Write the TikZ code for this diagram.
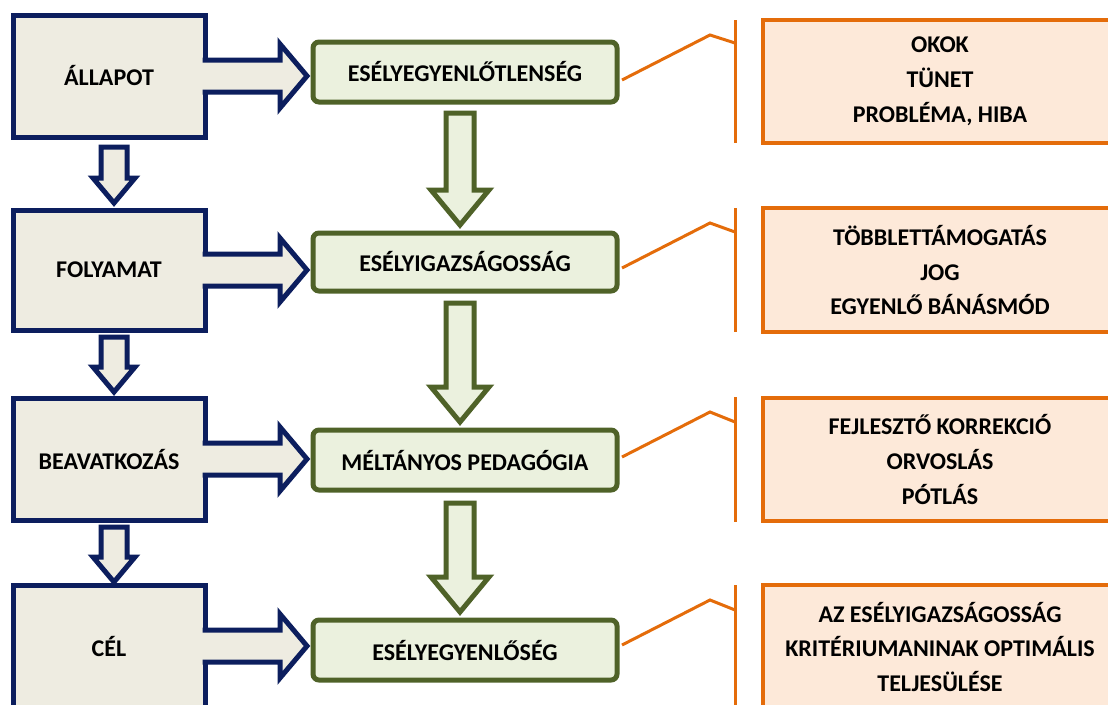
\documentclass[tikz,border=0pt]{standalone}
\usepackage{fontspec}
\setmainfont{Carlito}
\usetikzlibrary{calc}
\definecolor{navy}{RGB}{12,30,94}
\definecolor{tanfill}{RGB}{238,236,225}
\definecolor{olive}{RGB}{79,98,40}
\definecolor{greenfill}{RGB}{235,241,222}
\definecolor{orng}{RGB}{228,108,10}
\definecolor{orngfill}{RGB}{253,233,217}
\newcommand\vblock[6]{%
  \draw[#6] let \p1=(#1), \p2=(#2) in
    (\x1-#3pt,\y1) -- (\x1+#3pt,\y1) -- (\x1+#3pt,\y2+#5pt) -- (\x1+#4pt,\y2+#5pt)
    -- (\x1,\y2) -- (\x1-#4pt,\y2+#5pt) -- (\x1-#3pt,\y2+#5pt) -- cycle;}
\newcommand\hblock[2]{%
  \filldraw[bluearr] let \p1=(#1), \p2=(#2) in
    (\x1-2.5pt,\y1+16pt) -- (\x2-27pt,\y1+16pt) -- (\x2-27pt,\y1+32pt) -- (\x2,\y1)
    -- (\x2-27pt,\y1-32pt) -- (\x2-27pt,\y1-16pt) -- (\x1-2.5pt,\y1-16pt);}
\begin{document}
\begin{tikzpicture}[x=1pt,y=-1pt,
  font=\fontsize{24}{35}\selectfont\bfseries,
  stbox/.style={draw=navy, fill=tanfill, line width=5pt, minimum width=192pt, inner sep=0pt, outer sep=0pt, text=black},
  gbox/.style={draw=olive, fill=greenfill, line width=5pt, rounded corners=6pt, minimum width=304pt, inner sep=0pt, outer sep=0pt, text=black},
  obox/.style={draw=orng, fill=orngfill, line width=4pt, minimum width=354pt, inner sep=0pt, outer sep=0pt, align=center, text=black},
  bluearr/.style={draw=navy, fill=tanfill, line width=5pt},
  greenarr/.style={draw=olive, fill=greenfill, line width=5pt},
  olink/.style={draw=orng, line width=3pt}]
\useasboundingbox (0,0) rectangle (1108,704);
\clip (0,0) rectangle (1108,704);
% left column
\node[stbox, minimum height=122pt] (L1) at (109,76) {ÁLLAPOT};
\node[stbox, minimum height=120pt] (L2) at (109,270) {FOLYAMAT};
\node[stbox, minimum height=122pt] (L3) at (109,459) {BEAVATKOZÁS};
\node[stbox, minimum height=122pt] (L4) at (109,646) {CÉL};
% middle column
\node[gbox, minimum height=60pt] (G1) at (465,72) {ESÉLYEGYENLŐTLENSÉG};
\node[gbox, minimum height=58pt] (G2) at (465,262) {ESÉLYIGAZSÁGOSSÁG};
\node[gbox, minimum height=60pt] (G3) at (465,460) {MÉLTÁNYOS PEDAGÓGIA};
\node[gbox, minimum height=60pt] (G4) at (465,650) {ESÉLYEGYENLŐSÉG};
% right column
\node[obox, minimum height=123pt] (O1) at (940,81.5) {OKOK\\TÜNET\\PROBLÉMA, HIBA};
\node[obox, minimum height=124pt] (O2) at (940,270) {TÖBBLETTÁMOGATÁS\\JOG\\EGYENLŐ BÁNÁSMÓD};
\node[obox, minimum height=123pt] (O3) at (940,459) {FEJLESZTŐ KORREKCIÓ\\ORVOSLÁS\\PÓTLÁS};
\node[obox, minimum height=124pt] (O4) at (940,647) {AZ ESÉLYIGAZSÁGOSSÁG\\KRITÉRIUMANINAK OPTIMÁLIS\\TELJESÜLÉSE};
% blue down arrows
\coordinate (a1t) at ($(L1.south)+(5,10)$); \coordinate (a1b) at ($(L2.north)+(5,-7)$);
\coordinate (a2t) at ($(L2.south)+(5,7)$);  \coordinate (a2b) at ($(L3.north)+(5,-6)$);
\coordinate (a3t) at ($(L3.south)+(5,7)$);  \coordinate (a3b) at ($(L4.north)+(5,-3)$);
\vblock{a1t}{a1b}{13}{21}{25}{bluearr}
\vblock{a2t}{a2b}{13}{21}{25}{bluearr}
\vblock{a3t}{a3b}{13}{21}{25}{bluearr}
% green down arrows
\coordinate (g1t) at ($(G1.south)+(-5,11)$); \coordinate (g1b) at ($(G2.north)+(-5,-8)$);
\coordinate (g2t) at ($(G2.south)+(-5,12)$); \coordinate (g2b) at ($(G3.north)+(-5,-8)$);
\coordinate (g3t) at ($(G3.south)+(-5,13)$); \coordinate (g3b) at ($(G4.north)+(-5,-8)$);
\vblock{g1t}{g1b}{14}{29}{35}{greenarr}
\vblock{g2t}{g2b}{14}{29}{35}{greenarr}
\vblock{g3t}{g3b}{14}{29}{35}{greenarr}
% blue right arrows
\coordinate (t1) at ($(L1.east)+(102,0)$);
\coordinate (t2) at ($(L2.east)+(102,0)$);
\coordinate (t3) at ($(L3.east)+(102,-1)$);
\coordinate (t4) at ($(L4.east)+(102,0)$);
\hblock{L1.east}{t1}
\hblock{L2.east}{t2}
\hblock{L3.east}{t3}
\hblock{L4.east}{t4}
% orange brackets
\coordinate (v1t) at (735,20);  \coordinate (v1b) at (735,143);
\coordinate (k1) at (710,35);   \coordinate (j1) at (735,43);
\coordinate (v2t) at (735,208); \coordinate (v2b) at (735,332);
\coordinate (k2) at (710,223);  \coordinate (j2) at (735,232);
\coordinate (v3t) at (735,397); \coordinate (v3b) at (735,522);
\coordinate (k3) at (710,412);  \coordinate (j3) at (735,422);
\coordinate (v4t) at (735,585); \coordinate (v4b) at (735,712);
\coordinate (k4) at (710,600);  \coordinate (j4) at (735,610);
\draw[olink] (v1t) -- (v1b);
\draw[olink] (v2t) -- (v2b);
\draw[olink] (v3t) -- (v3b);
\draw[olink] (v4t) -- (v4b);
\draw[olink] ($(G1.east)+(5,8)$) -- (k1) -- (j1);
\draw[olink] ($(G2.east)+(5,6)$) -- (k2) -- (j2);
\draw[olink] ($(G3.east)+(5,-3)$) -- (k3) -- (j3);
\draw[olink] ($(G4.east)+(5,-5)$) -- (k4) -- (j4);
\end{tikzpicture}
\end{document}
